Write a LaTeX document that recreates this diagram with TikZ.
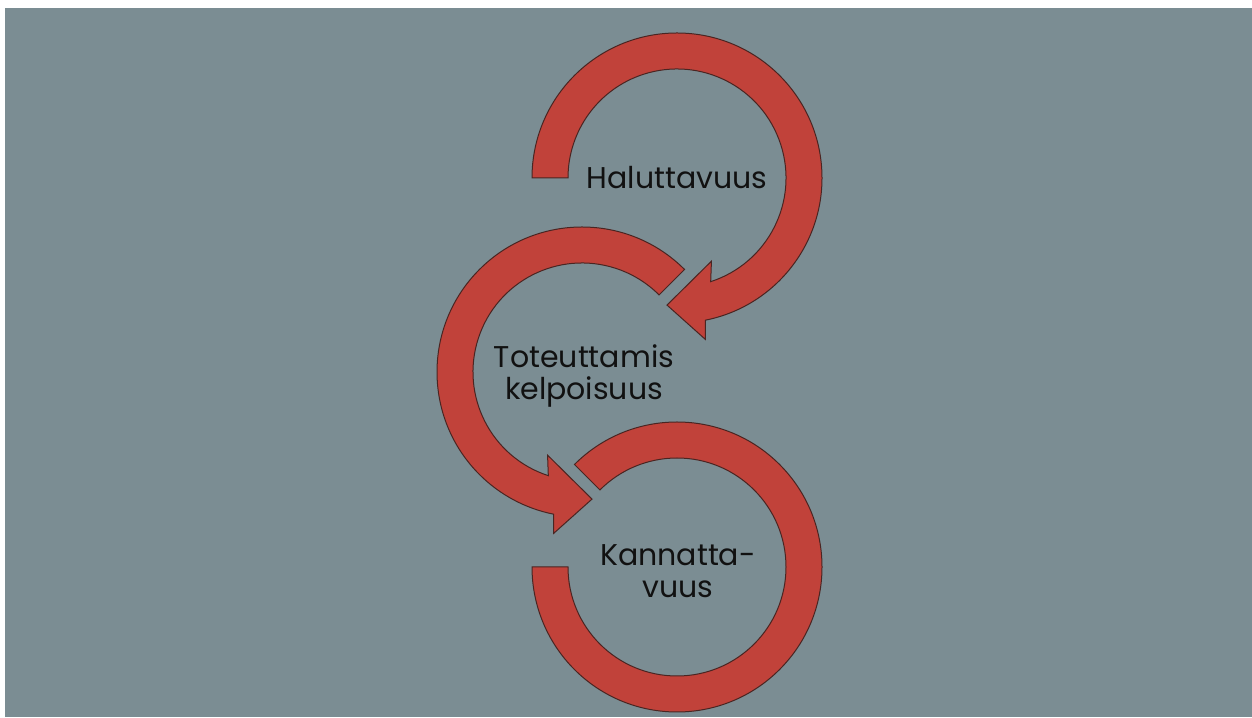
\documentclass[tikz,border=0pt]{standalone}
\usepackage{fontspec}
\setmainfont{Poppins}
\definecolor{slate}{HTML}{7B8D93}
\definecolor{brick}{HTML}{C1423A}
\definecolor{brickedge}{HTML}{4A2522}
\definecolor{ink}{HTML}{111111}
\tikzset{
  band/.style={fill=brick, draw=brickedge, line width=0.5pt, line join=miter},
  label/.style={text=ink, align=center, inner sep=0pt,
                font=\fontsize{15}{16}\selectfont}
}
\begin{document}
\begin{tikzpicture}[x=0.5pt, y=0.5pt]
  % canvas and slide background
  \useasboundingbox (0,0) rectangle (1252,717);
  \fill[white] (0,0) rectangle (1252,717);
  \fill[slate] (5,0) rectangle (1252,709);

  % upper circular arrow (clockwise, from the left end round to the head)
  \begin{scope}[shift={(677,539)}]
    \draw[band] (180:145) arc[start angle=180, end angle=-78.7, radius=145]
      -- (-80:164) -- (-94.5:127.5) -- (-67.5:90) -- (-72:109)
      arc[start angle=-72, end angle=180, radius=109] -- cycle;
    \node[label] (halu) at (0,0) {Haluttavuus};
  \end{scope}

  % middle circular arrow (counter-clockwise)
  \begin{scope}[shift={(582,345)}]
    \draw[band] (45:145) arc[start angle=45, end angle=258.7, radius=145]
      -- (260:164) -- (274.5:127.5) -- (247.5:90) -- (252:109)
      arc[start angle=252, end angle=45, radius=109] -- cycle;
    \node[label] (tote) at (2,-4) {Toteuttamis\\kelpoisuus};
  \end{scope}

  % lower block arc
  \begin{scope}[shift={(677,150)}]
    \draw[band] (135:145) arc[start angle=135, end angle=-180, radius=145]
      -- (-180:109) arc[start angle=-180, end angle=135, radius=109] -- cycle;
    \node[label] (kann) at (1,-4) {Kannatta-\\vuus};
  \end{scope}
\end{tikzpicture}
\end{document}
